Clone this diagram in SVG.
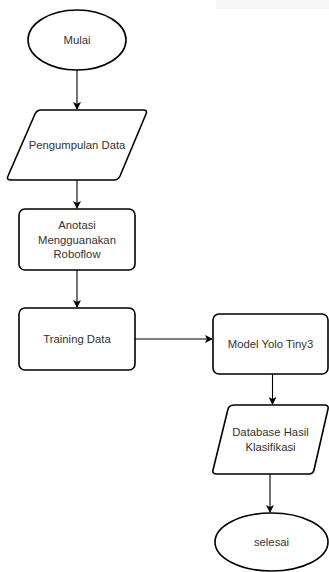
<svg xmlns="http://www.w3.org/2000/svg" width="329" height="572" viewBox="0 0 329 572">
<style>
.s{fill:#fff;stroke:#000;stroke-width:1.6;stroke-linejoin:round}
.t{font-family:"Liberation Sans",Arial,sans-serif;font-size:11.3px;fill:#333;text-anchor:middle}
.c{fill:none;stroke:#000;stroke-width:1.1}
</style>
<defs>
<marker id="a" markerWidth="8" markerHeight="8" refX="7" refY="4" orient="auto" markerUnits="userSpaceOnUse">
<path d="M0,0 L8,4 L0,8 L2,4 Z" fill="#000"/>
</marker>
</defs>
<rect x="216" y="0" width="113" height="9" fill="#f6f6f6"/>
<g id="connectors">
<path class="c" d="M77,70 V109" marker-end="url(#a)"/>
<path class="c" d="M77,180 V208" marker-end="url(#a)"/>
<path class="c" d="M77,270 V307" marker-end="url(#a)"/>
<path class="c" d="M135,339 H212" marker-end="url(#a)"/>
<path class="c" d="M272.5,374 V404" marker-end="url(#a)"/>
<path class="c" d="M270,474 V512" marker-end="url(#a)"/>
</g>
<g id="mulai">
<ellipse class="s" cx="77" cy="40" rx="49" ry="30"/>
<text class="t" x="77" y="44">Mulai</text>
</g>
<g id="pengumpulan">
<path class="s" d="M41,110 H143 Q148,110 146,114 L120,176 Q118,180 114,180 H11 Q6,180 8,176 L35,114 Q37,110 41,110 Z"/>
<text class="t" x="77" y="149">Pengumpulan Data</text>
</g>
<g id="anotasi">
<rect class="s" x="19" y="209" width="116" height="61" rx="6"/>
<text class="t" x="77" y="229">Anotasi</text>
<text class="t" x="77" y="243.5">Mengguanakan</text>
<text class="t" x="77" y="258">Roboflow</text>
</g>
<g id="training">
<rect class="s" x="19" y="308" width="116" height="62" rx="6"/>
<text class="t" x="77" y="343">Training Data</text>
</g>
<g id="model">
<rect class="s" x="213" y="314" width="115" height="60" rx="6"/>
<text class="t" x="270.5" y="348">Model Yolo Tiny3</text>
</g>
<g id="database">
<path class="s" d="M235,405 H324 Q329,405 328,409 L314,470 Q313,474 309,474 H217 Q212,474 213,470 L228,409 Q229,405 235,405 Z"/>
<text class="t" x="270.5" y="436">Database Hasil</text>
<text class="t" x="270.5" y="450.5">Klasifikasi</text>
</g>
<g id="selesai">
<ellipse class="s" cx="271.5" cy="542" rx="56.5" ry="29"/>
<text class="t" x="271.5" y="546">selesai</text>
</g>
</svg>
